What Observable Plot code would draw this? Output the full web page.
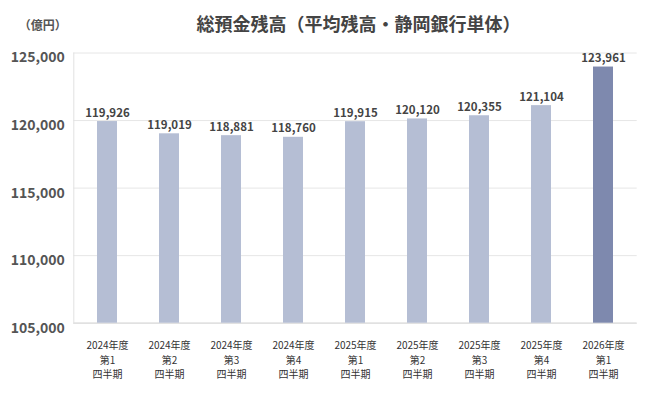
<!DOCTYPE html>
<html>
<head>
<meta charset="utf-8">
<script src="https://cdn.jsdelivr.net/npm/d3@7"></script>
<script src="https://cdn.jsdelivr.net/npm/@observablehq/plot@0.6"></script>
<style>
  html, body { margin: 0; padding: 0; background: #fff; }
  #chart svg { display: block; }
</style>
</head>
<body>
<div id="chart"></div>
<script>
const title = "総預金残高（平均残高・静岡銀行単体）";
const unitLabel = "（億円）";
const categories = [
  "2024年度\n第1\n四半期",
  "2024年度\n第2\n四半期",
  "2024年度\n第3\n四半期",
  "2024年度\n第4\n四半期",
  "2025年度\n第1\n四半期",
  "2025年度\n第2\n四半期",
  "2025年度\n第3\n四半期",
  "2025年度\n第4\n四半期",
  "2026年度\n第1\n四半期"
];
const values = [119926, 119019, 118881, 118760, 119915, 120120, 120355, 121104, 123961];
const yTicks = [105000, 110000, 115000, 120000, 125000];
const highlighted = "2026年度\n第1\n四半期";

const data = categories.map((c, i) => ({ q: c, v: values[i] }));
const yMin = yTicks[0];
const fmt = d3.format(",");
const font = "'Noto Sans CJK JP', 'Noto Sans', sans-serif";

const chart = Plot.plot({
  width: 651,
  height: 400,
  marginTop: 52.5,
  marginBottom: 77.3,
  marginLeft: 73.3,
  marginRight: 14.3,
  style: { fontFamily: font, background: "#fff" },
  x: { domain: categories, paddingInner: 0.675, paddingOuter: 0.3375, label: null },
  y: { domain: [yTicks[0], yTicks[yTicks.length - 1]], label: null },
  marks: [
    Plot.ruleY(yTicks, { stroke: "#e6e6e6", strokeWidth: 1 }),
    Plot.ruleY([yMin], { stroke: "#dcdcdc", strokeWidth: 1.2 }),
    Plot.frame({ anchor: "left", stroke: "#e2e2e2" }),
    Plot.barY(data, {
      x: "q",
      y1: yMin,
      y2: "v",
      fill: d => d.q === highlighted ? "#7e89ae" : "#b5bed4"
    }),
    Plot.text(data, {
      x: "q",
      y: "v",
      text: d => fmt(d.v),
      lineAnchor: "bottom",
      dy: -5,
      fontSize: 11.5,
      fontWeight: "bold",
      fill: "#444"
    }),
    Plot.axisY({
      ticks: yTicks,
      tickFormat: fmt,
      tickSize: 0,
      tickPadding: 9,
      dy: 5,
      fontSize: 14,
      fontWeight: "bold",
      fill: "#555",
      label: null
    }),
    Plot.axisX({
      tickSize: 0,
      tickPadding: 16,
      fontSize: 10,
      lineHeight: 1.45,
      fill: "#333",
      label: null
    }),
    Plot.text([title], {
      frameAnchor: "top",
      lineAnchor: "middle",
      dy: -27.5,
      dx: 3,
      fontSize: 18,
      fontWeight: "bold",
      fill: "#444"
    }),
    Plot.text([unitLabel], {
      frameAnchor: "top-left",
      lineAnchor: "middle",
      textAnchor: "start",
      dx: -55,
      dy: -27,
      fontSize: 12,
      fontWeight: "bold",
      fill: "#555"
    })
  ]
});
document.getElementById("chart").appendChild(chart);
</script>
</body>
</html>
